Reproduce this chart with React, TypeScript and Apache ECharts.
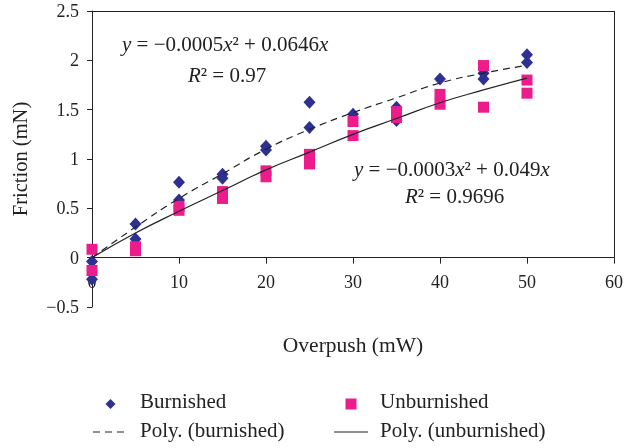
import React, { useEffect, useRef } from "react";
import * as echarts from "echarts";

const burnishedX = [0, 0, 5, 5, 10, 10, 15, 15, 20, 20, 25, 25, 30, 35, 35, 40, 45, 45, 50, 50];
const burnishedY = [-0.04, -0.22, 0.34, 0.19, 0.765, 0.585, 0.846, 0.805, 1.13, 1.09, 1.576, 1.318, 1.454, 1.525, 1.39, 1.81, 1.87, 1.81, 2.056, 1.978];

const unburnishedX = [0, 0, 5, 5, 10, 10, 15, 15, 20, 20, 25, 25, 30, 30, 35, 35, 40, 40, 45, 45, 50, 50];
const unburnishedY = [0.085, -0.13, 0.11, 0.07, 0.52, 0.48, 0.67, 0.6, 0.88, 0.82, 1.047, 0.95, 1.38, 1.237, 1.48, 1.42, 1.655, 1.555, 1.947, 1.525, 1.8, 1.667];

const fitX = [0, 5, 10, 15, 20, 25, 30, 35, 40, 45, 50];
const polyBurnished = [0, 0.31, 0.6, 0.85, 1.1, 1.3, 1.47, 1.62, 1.77, 1.87, 1.95];
const polyUnburnished = [0, 0.25, 0.47, 0.68, 0.89, 1.07, 1.25, 1.41, 1.57, 1.7, 1.82];

const xTicks = [0, 10, 20, 30, 40, 50, 60];
const yTicks = [-0.5, 0, 0.5, 1, 1.5, 2, 2.5];

const NAVY = "#2E3192";
const PINK = "#EC1C8D";
const INK = "#222222";
const FONT = "Liberation Serif";

const zip = (xs: number[], ys: number[]) => xs.map((x, i) => [x, ys[i]]);

export default function App() {
  const ref = useRef<HTMLDivElement>(null);
  useEffect(() => {
    if (!ref.current) return;
    const chart = echarts.init(ref.current, undefined, { renderer: "svg" });
    const eqRich = {
      i: { fontFamily: FONT, fontSize: 21, fontStyle: "italic", color: INK },
    };
    const eqStyle = (text: string) => ({
      text,
      rich: eqRich,
      fontFamily: FONT,
      fontSize: 21,
      fill: INK,
    });
    const legendText = (text: string) => ({ text, fontFamily: FONT, fontSize: 21, fill: INK });
    chart.setOption({
      animation: false,
      grid: { left: 92, right: 9, top: 11, bottom: 141 },
      xAxis: {
        type: "value",
        min: xTicks[0],
        max: xTicks[xTicks.length - 1],
        interval: 10,
        name: "Overpush (mW)",
        nameLocation: "middle",
        nameGap: 27,
        nameTextStyle: { fontFamily: FONT, fontSize: 21.5, color: INK },
        axisLine: { show: true, lineStyle: { color: INK, width: 1 } },
        axisTick: { show: true, length: 6, lineStyle: { color: INK } },
        axisLabel: { fontFamily: FONT, fontSize: 18, color: INK, margin: -34 },
        splitLine: { show: false },
      },
      yAxis: {
        type: "value",
        min: yTicks[0],
        max: yTicks[yTicks.length - 1],
        interval: 0.5,
        name: "Friction (mN)",
        nameLocation: "middle",
        nameGap: 62,
        nameTextStyle: { fontFamily: FONT, fontSize: 20.5, color: INK },
        axisLine: { show: true, lineStyle: { color: INK, width: 1 } },
        axisTick: { show: true, length: 5, lineStyle: { color: INK } },
        axisLabel: {
          fontFamily: FONT,
          fontSize: 18,
          color: INK,
          margin: 13,
          formatter: (v: number) => (v < 0 ? "\u2212" + Math.abs(v) : String(v)),
        },
        splitLine: { show: false },
      },
      series: [
        {
          name: "Burnished",
          type: "scatter",
          symbol: "diamond",
          symbolSize: [12, 13],
          itemStyle: { color: NAVY, opacity: 1 },
          data: zip(burnishedX, burnishedY),
          markLine: {
            silent: true,
            symbol: "none",
            label: { show: false },
            lineStyle: { color: INK, width: 1, type: "solid" },
            data: [
              [{ coord: [60, 2.5] }, { coord: [0, 2.5] }],
              [{ coord: [60, 2.5] }, { coord: [60, 0] }],
            ],
          },
        },
        {
          name: "Unburnished",
          type: "scatter",
          symbol: "rect",
          symbolSize: 11,
          itemStyle: { color: PINK, opacity: 1 },
          data: zip(unburnishedX, unburnishedY),
        },
        {
          name: "Poly. (burnished)",
          type: "line",
          smooth: true,
          showSymbol: false,
          lineStyle: { color: INK, width: 1.2, type: [7, 5] },
          data: zip(fitX, polyBurnished),
        },
        {
          name: "Poly. (unburnished)",
          type: "line",
          smooth: true,
          showSymbol: false,
          lineStyle: { color: INK, width: 1.2, type: "solid" },
          data: zip(fitX, polyUnburnished),
        },
      ],
      graphic: [
        { type: "text", left: 122, top: 33, style: eqStyle("{i|y} = \u22120.0005{i|x}\u00b2 + 0.0646{i|x}") },
        { type: "text", left: 188, top: 64, style: eqStyle("{i|R}\u00b2 = 0.97") },
        { type: "text", left: 354, top: 158, style: eqStyle("{i|y} = \u22120.0003{i|x}\u00b2 + 0.049{i|x}") },
        { type: "text", left: 405, top: 185, style: eqStyle("{i|R}\u00b2 = 0.9696") },
        {
          type: "polygon",
          shape: { points: [[110.5, 399], [115.5, 404], [110.5, 409], [105.5, 404]] },
          style: { fill: NAVY },
        },
        { type: "text", left: 140, top: 390, style: legendText("Burnished") },
        { type: "rect", shape: { x: 345.5, y: 398.5, width: 11, height: 11 }, style: { fill: PINK } },
        { type: "text", left: 380, top: 390, style: legendText("Unburnished") },
        {
          type: "line",
          shape: { x1: 93, y1: 432, x2: 128, y2: 432 },
          style: { stroke: INK, lineWidth: 1.2, lineDash: [7, 5] },
        },
        { type: "text", left: 140, top: 419, style: legendText("Poly. (burnished)") },
        { type: "line", shape: { x1: 334, y1: 432, x2: 368, y2: 432 }, style: { stroke: INK, lineWidth: 1.2 } },
        { type: "text", left: 380, top: 419, style: legendText("Poly. (unburnished)") },
      ],
    });
    return () => chart.dispose();
  }, []);
  return <div ref={ref} style={{ position: "fixed", left: 0, top: 0, width: 626, height: 448 }} />;
}
